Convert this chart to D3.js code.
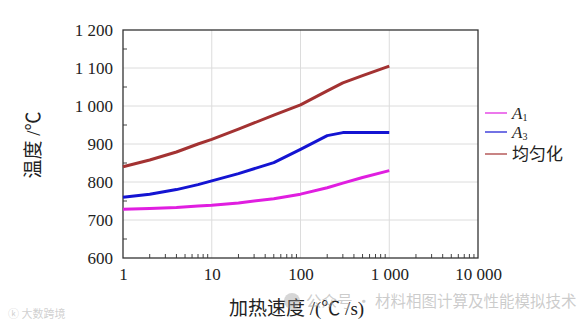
<!DOCTYPE html>
<html>
<head>
<meta charset="utf-8">
<script src="https://cdn.jsdelivr.net/npm/d3@7"></script>
<style>
body{margin:0;background:#fff;}
svg{display:block;}
</style>
</head>
<body>
<svg></svg>
<script>
// heating rate (°C/s) and the three temperature curves
var rates=[1,2,4,7,10,20,50,100,200,300,500,1000];
var a1=[728,730,733,737,739,745,756,768,785,797,812,830];
var a3=[760,768,780,793,803,822,851,886,922,930,930,930];
var homog=[840,858,879,900,912,939,976,1003,1040,1061,1080,1105];
var seriesNames=["A1","A3","均匀化"];
var colors=["#e01ee0","#1414d2","#a33232"];
var yTicks=[600,700,800,900,1000,1100,1200];
var xTicks=[1,10,100,1000,10000];

var svgWidth=586,svgHeight=325;
var plotLeft=123,plotRight=478,plotTop=30,plotBottom=258;

var svg=d3.select('svg')
    .attr("width",svgWidth)
    .attr("height",svgHeight);

var xscale=d3.scaleLog().domain([1,10000]).range([plotLeft,plotRight]);
var yscale=d3.scaleLinear().domain([600,1200]).range([plotBottom,plotTop]);

function fmt(d){
    return d3.format(",")(d).replace(/,/g," ");
}

// grid
svg.append("g").selectAll("line")
    .data(yTicks.slice(1,-1))
    .enter().append("line")
    .attr("x1",plotLeft).attr("x2",plotRight)
    .attr("y1",function(d){return yscale(d);})
    .attr("y2",function(d){return yscale(d);})
    .attr("stroke","#dcdcdc").attr("stroke-width",1);
svg.append("g").selectAll("line")
    .data(xTicks.slice(1,-1))
    .enter().append("line")
    .attr("y1",plotTop).attr("y2",plotBottom)
    .attr("x1",function(d){return xscale(d);})
    .attr("x2",function(d){return xscale(d);})
    .attr("stroke","#dcdcdc").attr("stroke-width",1);

// axes
var yAxis=d3.axisLeft(yscale).tickValues(yTicks).tickFormat(fmt).tickSize(0).tickPadding(10);
var xAxis=d3.axisBottom(xscale).tickValues(xTicks).tickFormat(fmt).tickSize(0).tickPadding(10);

var gy=svg.append("g").attr("transform","translate("+plotLeft+",0)").call(yAxis);
var gx=svg.append("g").attr("transform","translate(0,"+plotBottom+")").call(xAxis);
[gy,gx].forEach(function(g){
    g.select(".domain").remove();
    g.selectAll("text")
        .attr("font-family","'Liberation Serif',serif")
        .attr("font-size",17)
        .attr("fill","#222");
});

// minor ticks, inside
var minorY=d3.range(650,1200,100);
svg.append("g").selectAll("line")
    .data(minorY).enter().append("line")
    .attr("x1",plotLeft).attr("x2",plotLeft+4)
    .attr("y1",function(d){return yscale(d);})
    .attr("y2",function(d){return yscale(d);})
    .attr("stroke","#444");
var minorX=[];
[1,10,100,1000].forEach(function(p){
    for(var k=2;k<10;k++) minorX.push(p*k);
});
svg.append("g").selectAll("line")
    .data(minorX).enter().append("line")
    .attr("y1",plotBottom).attr("y2",plotBottom-4)
    .attr("x1",function(d){return xscale(d);})
    .attr("x2",function(d){return xscale(d);})
    .attr("stroke","#444");

// frame
svg.append("rect")
    .attr("x",plotLeft).attr("y",plotTop)
    .attr("width",plotRight-plotLeft).attr("height",plotBottom-plotTop)
    .attr("fill","none").attr("stroke","#333").attr("stroke-width",1.3);

// lines
var line=d3.line()
    .x(function(d){return xscale(d[0]);})
    .y(function(d){return yscale(d[1]);});

[a1,a3,homog].forEach(function(vals,i){
    svg.append("path")
        .datum(rates.map(function(r,j){return [r,vals[j]];}))
        .attr("d",line)
        .attr("fill","none")
        .attr("stroke",colors[i])
        .attr("stroke-width",3)
        .attr("stroke-linejoin","round");
});

// axis titles
svg.append("text")
    .attr("transform","translate(40,145) rotate(-90)")
    .attr("text-anchor","middle")
    .attr("font-family","'Liberation Serif','Noto Sans CJK SC',serif")
    .attr("font-size",19)
    .attr("fill","#222")
    .text("温度 /℃");
svg.append("text")
    .attr("x",229).attr("y",315)
    .attr("font-family","'Liberation Serif','Noto Sans CJK SC',serif")
    .attr("font-size",19)
    .attr("fill","#222")
    .text("加热速度 /(℃ /s)");

// legend
var legY=[113,132,154];
var leg=svg.append("g");
seriesNames.forEach(function(name,i){
    leg.append("line")
        .attr("x1",485).attr("x2",507)
        .attr("y1",legY[i]).attr("y2",legY[i])
        .attr("stroke",colors[i]).attr("stroke-width",1.2);
    var t=leg.append("text")
        .attr("x",512).attr("y",legY[i]+6)
        .attr("font-family","'Liberation Serif','Noto Sans CJK SC',serif")
        .attr("font-size",17)
        .attr("fill","#222");
    if(i<2){
        t.append("tspan").attr("font-style","italic").text("A");
        t.append("tspan").attr("font-size",10).attr("dy",2).text(name.slice(1));
    } else {
        t.text(name);
    }
});

// watermarks
svg.append("text")
    .attr("x",306).attr("y",307)
    .attr("font-family","'Noto Sans CJK SC',sans-serif")
    .attr("font-size",15.5)
    .attr("fill","#aaa").attr("fill-opacity",0.6)
    .text("公众号 · 材料相图计算及性能模拟技术");
svg.append("circle")
    .attr("cx",292).attr("cy",301).attr("r",8)
    .attr("fill","#999").attr("fill-opacity",0.4);
svg.append("text")
    .attr("x",8).attr("y",318)
    .attr("font-family","'Noto Sans CJK SC',sans-serif")
    .attr("font-size",11)
    .attr("fill","#bbb").attr("fill-opacity",0.7)
    .text("ⓚ 大数跨境");
</script>
</body>
</html>
